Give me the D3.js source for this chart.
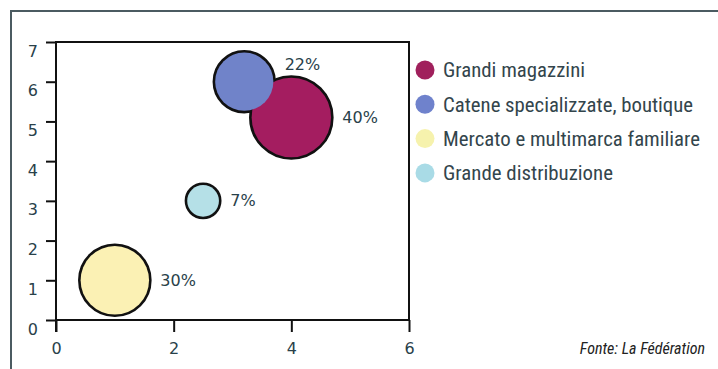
<!DOCTYPE html>
<html>
<head>
<meta charset="utf-8">
<script src="https://cdn.jsdelivr.net/npm/d3@7/dist/d3.min.js"></script>
<style>
  html, body { margin: 0; padding: 0; background: #fff; }
  svg { display: block; }
</style>
</head>
<body>
<script>
// Market share by distribution channel
const categories = [
  "Grandi magazzini",
  "Catene specializzate, boutique",
  "Mercato e multimarca familiare",
  "Grande distribuzione"
];
const xValues = [4, 3.2, 1, 2.5];
const yValues = [5.1, 6, 1, 3];
const shares = [40, 22, 30, 7];
const colors = ["#a41d60", "#7083c9", "#fbf1b4", "#b5e0e7"];
const legendColors = ["#a0205c", "#6f82cc", "#f6f2ad", "#a9dbe6"];
const xTicks = [0, 2, 4, 6];
const yTicks = [0, 1, 2, 3, 4, 5, 6, 7];
const source = "Fonte: La Fédération";

const W = 718, H = 369;
const plot = { left: 56, right: 409, top: 42, bottom: 320 };
const textColor = "#29414a";

const svg = d3.select("body").append("svg")
  .attr("width", W).attr("height", H);

svg.append("rect").attr("width", W).attr("height", H).attr("fill", "#fff");

// outer frame (top and left edges)
svg.append("path")
  .attr("d", `M11,${H} V11 H${W}`)
  .attr("fill", "none")
  .attr("stroke", "#4b5b61")
  .attr("stroke-width", 2);

const x = d3.scaleLinear().domain([0, 6]).range([plot.left, plot.right]);
const y = d3.scaleLinear().domain([0, 7]).range([plot.bottom, plot.top]);
const r = d3.scaleSqrt().domain([0, 40]).range([0, 41]);

// axes
const yAxis = svg.append("g")
  .attr("transform", `translate(${plot.left},0)`)
  .call(d3.axisLeft(y).tickValues(yTicks).tickFormat(d3.format("d"))
    .tickSize(10).tickSizeOuter(0).tickPadding(8));
const xAxis = svg.append("g")
  .attr("transform", `translate(0,${plot.bottom})`)
  .call(d3.axisBottom(x).tickValues(xTicks).tickFormat(d3.format("d"))
    .tickSize(12).tickSizeOuter(0).tickPadding(10));

[yAxis, xAxis].forEach(g => {
  g.select(".domain").remove();
  g.selectAll(".tick line").attr("stroke", "#111").attr("stroke-width", 2);
  g.selectAll("text")
    .attr("fill", textColor)
    .style("font-family", "'DejaVu Sans', Verdana, sans-serif")
    .style("font-size", "16px");
});
yAxis.selectAll("text").attr("dy", "0.32em").attr("y", 9);
xAxis.selectAll("text").attr("dy", "0.71em").attr("y", 23);

// plot frame: left and bottom axis lines plus top and right edges
svg.append("path")
  .attr("d", `M${plot.left},${plot.bottom + 12} V${plot.top} H${plot.right} V${plot.bottom} H${plot.left}`)
  .attr("fill", "none")
  .attr("stroke", "#111")
  .attr("stroke-width", 2);

const bubbles = categories.map((c, i) => ({
  name: c, x: xValues[i], y: yValues[i], share: shares[i], color: colors[i],
  cx: x(xValues[i]), cy: y(yValues[i]), r: r(shares[i])
}));

// outlines first, fills on top so overlapping bubbles merge cleanly
const sw = 2.6;
svg.append("g").selectAll("circle").data(bubbles).join("circle")
  .attr("cx", d => d.cx).attr("cy", d => d.cy).attr("r", d => d.r)
  .attr("fill", "#111").attr("stroke", "#111").attr("stroke-width", sw);
// largest first so the smaller overlapping bubble sits on top
const fillOrder = bubbles.slice().sort((a, b) => b.share - a.share);
svg.append("g").selectAll("circle").data(fillOrder).join("circle")
  .attr("cx", d => d.cx).attr("cy", d => d.cy).attr("r", d => d.r - sw / 2)
  .attr("fill", d => d.color);

// value labels to the right of each bubble, lifted clear of neighbours
const gap = 10;
bubbles.forEach((d, i) => {
  const lx = d.cx + d.r + gap;
  let ly = d.cy;
  const others = bubbles.filter((o, j) => j !== i);
  const blocked = yy => others.some(o => Math.hypot(lx - o.cx, yy + 6 - o.cy) < o.r + 6);
  while (blocked(ly) && ly > plot.top) ly -= 1;
  svg.append("text")
    .attr("x", lx).attr("y", ly).attr("dy", "0.35em")
    .attr("fill", textColor)
    .style("font-family", "'DejaVu Sans', Verdana, sans-serif")
    .style("font-size", "16px")
    .text(d.share + "%");
});

// legend
const narrow = "'Liberation Sans Narrow', 'Arial Narrow', 'Roboto Condensed', sans-serif";
const legendWidths = [142, 250, 257, 170];
const legend = svg.append("g");
categories.forEach((c, i) => {
  const cy = 70 + i * 34.3;
  legend.append("circle")
    .attr("cx", 425).attr("cy", cy).attr("r", 9.5)
    .attr("fill", legendColors[i]);
  legend.append("text")
    .attr("x", 443).attr("y", cy).attr("dy", "0.36em")
    .attr("fill", "#33454c")
    .attr("textLength", legendWidths[i])
    .attr("lengthAdjust", "spacingAndGlyphs")
    .style("font-family", narrow)
    .style("font-size", "20px")
    .text(c);
});

svg.append("text")
  .attr("x", 705).attr("y", 348).attr("dy", "0.35em")
  .attr("text-anchor", "end")
  .attr("fill", "#222")
  .style("font-family", narrow)
  .style("font-style", "italic")
  .style("font-size", "16px")
  .text(source);
</script>
</body>
</html>
